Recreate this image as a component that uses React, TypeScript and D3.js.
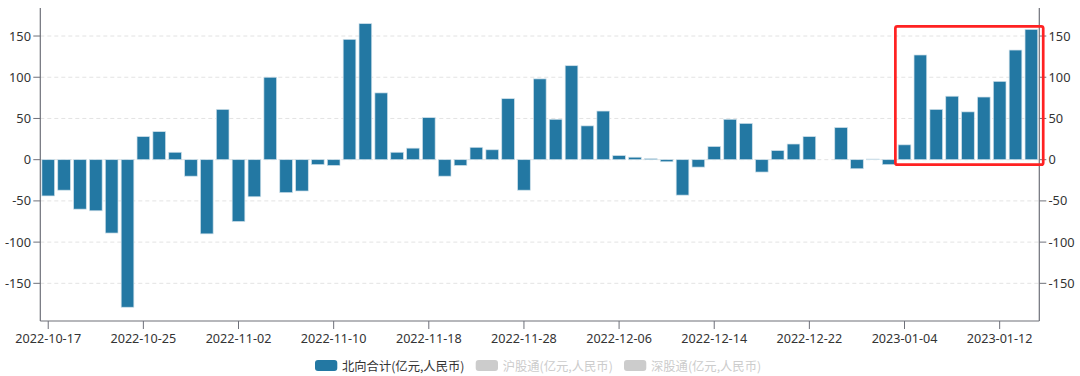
import React from "react";
import * as d3 from "d3";

const dates: string[] = [
  "2022-10-17", "2022-10-18", "2022-10-19", "2022-10-20", "2022-10-21",
  "2022-10-24", "2022-10-25", "2022-10-26", "2022-10-27", "2022-10-28",
  "2022-10-31", "2022-11-01", "2022-11-02", "2022-11-03", "2022-11-04",
  "2022-11-07", "2022-11-08", "2022-11-09", "2022-11-10", "2022-11-11",
  "2022-11-14", "2022-11-15", "2022-11-16", "2022-11-17", "2022-11-18",
  "2022-11-21", "2022-11-22", "2022-11-23", "2022-11-24", "2022-11-25",
  "2022-11-28", "2022-11-29", "2022-11-30", "2022-12-01", "2022-12-02",
  "2022-12-05", "2022-12-06", "2022-12-07", "2022-12-08", "2022-12-09",
  "2022-12-12", "2022-12-13", "2022-12-14", "2022-12-15", "2022-12-16",
  "2022-12-19", "2022-12-20", "2022-12-21", "2022-12-22", "2022-12-23",
  "2022-12-28", "2022-12-29", "2022-12-30", "2023-01-03", "2023-01-04",
  "2023-01-05", "2023-01-06", "2023-01-09", "2023-01-10", "2023-01-11",
  "2023-01-12", "2023-01-13", "2023-01-16",
];

const northbound: number[] = [
  -44, -37, -60, -62, -89,
  -179, 28, 34, 9, -20,
  -90, 61, -75, -45, 100,
  -40, -38, -6, -7, 146,
  165, 81, 9, 14, 51,
  -20, -7, 15, 12, 74,
  -37, 98, 49, 114, 41,
  59, 5, 3, 1.2, -2.5,
  -43, -9, 16, 49, 44,
  -15, 11, 19, 28, 0,
  39, -11, 0.8, -6, 18,
  127, 61, 77, 58, 76,
  95, 133, 158,
];

const yTicks: number[] = [-150, -100, -50, 0, 50, 100, 150];
const legendItems: string[] = [
  "北向合计(亿元,人民币)",
  "沪股通(亿元,人民币)",
  "深股通(亿元,人民币)",
];
const yDomain: [number, number] = [-195.7, 184];
const labelEvery = 6;

const W = 1080;
const H = 376;
const left = 40.3;
const right = 1039.3;
const top = 8;
const bottom = 321;

const BAR = "#2378a3";
const AXIS = "#6e7079";
const GRID = "#e3e3e3";
const TEXT = "#333";
const LATIN = "'Noto Sans', 'DejaVu Sans', sans-serif";
const CJK = "'Noto Sans CJK SC', 'Noto Sans', sans-serif";

export default function App() {
  const x = d3
    .scaleBand<string>()
    .domain(dates)
    .range([left, right])
    .paddingInner(0.2)
    .paddingOuter(0.1);
  const y = d3.scaleLinear().domain(yDomain).range([bottom, top]);
  const bw = x.bandwidth();
  const labelled = dates.filter((_, i) => i % labelEvery === 0);

  // highlight box around the last stretch of bars
  const boxStart = dates[54];
  const boxEnd = dates[dates.length - 1];
  const bx0 = (x(boxStart) as number) - 2.8;
  const bx1 = (x(boxEnd) as number) + bw + 5.5;
  const by0 = y(161.8);
  const by1 = y(-6.1);

  const legendX = [315, 475.7, 624];

  return (
    <svg
      width={W}
      height={H}
      style={{ position: "absolute", left: 0, top: 0, background: "#fff" }}
    >
      {/* grid */}
      {yTicks.map((t) => (
        <line
          key={"g" + t}
          x1={left}
          x2={right}
          y1={y(t)}
          y2={y(t)}
          stroke={GRID}
          strokeDasharray="4,3"
          strokeWidth={1}
        />
      ))}
      {/* bars */}
      {northbound.map((v, i) => {
        const x0 = x(dates[i]) as number;
        const y0 = y(Math.max(0, v));
        const h = Math.abs(y(v) - y(0));
        if (h <= 0) return null;
        return (
          <rect
            key={"b" + i}
            x={x0}
            y={y0}
            width={bw}
            height={h}
            fill={BAR}
            stroke="#cfe0ea"
            strokeWidth={0.7}
          />
        );
      })}
      {/* axes */}
      <line x1={left} x2={left} y1={top} y2={bottom} stroke={AXIS} strokeWidth={1.2} />
      <line x1={right} x2={right} y1={top} y2={bottom} stroke={AXIS} strokeWidth={1.2} />
      <line x1={left} x2={right} y1={bottom} y2={bottom} stroke={AXIS} strokeWidth={1.2} />
      {yTicks.map((t) => (
        <g key={"yt" + t}>
          <line x1={left - 7} x2={left} y1={y(t)} y2={y(t)} stroke={AXIS} strokeWidth={1} />
          <text
            x={31}
            y={y(t) + 4.5}
            textAnchor="end"
            fontFamily={LATIN}
            fontSize={12.8}
            fill={TEXT}
          >
            {t}
          </text>
          <line x1={right} x2={right + 7} y1={y(t)} y2={y(t)} stroke={AXIS} strokeWidth={1} />
          <text
            x={1048.5}
            y={y(t) + 4.5}
            textAnchor="start"
            fontFamily={LATIN}
            fontSize={12.8}
            fill={TEXT}
          >
            {t}
          </text>
        </g>
      ))}
      {labelled.map((d) => {
        const cx = (x(d) as number) + bw / 2;
        return (
          <g key={"xt" + d}>
            <line x1={cx} x2={cx} y1={bottom} y2={bottom + 8} stroke={AXIS} strokeWidth={1} />
            <text
              x={cx}
              y={343.3}
              textAnchor="middle"
              fontFamily={LATIN}
              fontSize={12.6}
              fill={TEXT}
            >
              {d}
            </text>
          </g>
        );
      })}
      {/* highlight box */}
      <rect
        x={bx0}
        y={by0}
        width={bx1 - bx0}
        height={by1 - by0}
        fill="none"
        stroke="#ff2222"
        strokeWidth={2.7}
        rx={2}
      />
      {/* legend */}
      {legendItems.map((name, i) => (
        <g key={"l" + i}>
          <rect
            x={legendX[i]}
            y={360}
            width={22.3}
            height={11}
            rx={3}
            fill={i === 0 ? BAR : "#cccccc"}
          />
          <text
            x={legendX[i] + 27}
            y={366}
            dominantBaseline="central"
            fontFamily={CJK}
            fontSize={12.3}
            fill={i === 0 ? TEXT : "#cccccc"}
          >
            {name}
          </text>
        </g>
      ))}
    </svg>
  );
}
